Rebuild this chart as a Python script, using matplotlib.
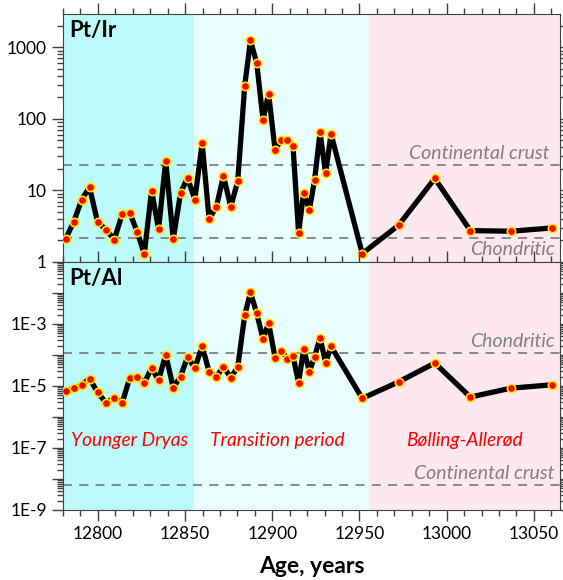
import numpy as np
import matplotlib
matplotlib.use('Agg')
import matplotlib.pyplot as plt
from matplotlib.ticker import LogLocator, FixedLocator, FixedFormatter, MultipleLocator, NullFormatter

plt.rcParams['font.family'] = ['Lato', 'DejaVu Sans']

# sample ages (years)
age = [12781.5, 12786.1, 12790.7, 12795.2, 12799.8, 12804.6, 12809.4, 12814.0,
       12818.3, 12822.6, 12826.6, 12830.8, 12834.8, 12838.9, 12843.2, 12847.4,
       12851.4, 12855.6, 12859.8, 12863.8, 12868.0, 12872.0, 12876.2, 12880.2,
       12884.2, 12887.5, 12891.1, 12894.7, 12897.9, 12901.6, 12905.2, 12908.7,
       12911.9, 12915.1, 12918.0, 12921.3, 12924.3, 12927.4, 12930.6, 12933.7,
       12951.6, 12972.4, 12993.2, 13013.6, 13036.8, 13060.2]

pt_ir = [2.12, 3.59, 7.46, 11.1, 3.63, 2.84, 2.06, 4.69,
         4.84, 2.63, 1.29, 9.96, 2.87, 25.9, 2.08, 9.2,
         15.0, 7.46, 45.7, 3.95, 5.96, 16.0, 5.9, 13.5,
         290, 1248, 601, 97, 224, 37.3, 50.8, 51.5,
         41.9, 2.55, 9.34, 5.4, 14.2, 64.6, 17.4, 61.7,
         1.31, 3.26, 14.7, 2.75, 2.69, 2.99]

pt_al = [6.8e-6, 8.5e-6, 1.07e-5, 1.74e-5, 6.3e-6, 2.9e-6, 4.1e-6, 2.9e-6,
         1.86e-5, 2.0e-5, 1.26e-5, 3.8e-5, 1.55e-5, 1.02e-4, 8.9e-6, 2.0e-5,
         8.7e-5, 3.8e-5, 1.9e-4, 2.9e-5, 2.0e-5, 4.2e-5, 1.86e-5, 4.1e-5,
         1.9e-3, 1.05e-2, 2.2e-3, 3.3e-4, 1.07e-3, 8.3e-5, 1.38e-4, 7.4e-5,
         9.1e-5, 1.28e-5, 1.55e-4, 2.9e-5, 8.9e-5, 3.6e-4, 5.6e-5, 1.9e-4,
         4.0e-6, 1.35e-5, 5.5e-5, 4.4e-6, 8.5e-6, 1.09e-5]

# reference levels
ir_chondritic = 2.17
ir_crust = 23.0
al_chondritic = 1.18e-4
al_crust = 6.6e-9

# periods
periods = ['Younger Dryas', 'Transition period', 'Bølling-Allerød']
period_edges = [12780, 12855.4, 12955.2, 13065]
period_colors = ['#BDFBFB', '#E8FEFE', '#FDE8F0']
period_x = [12818, 12903, 13010]

x_min, x_max = 12780, 13065

fig = plt.figure(figsize=(5.63, 5.80), dpi=100)
ax1 = fig.add_axes([63/563, 1-262/580, 497/563, 248/580])
ax2 = fig.add_axes([63/563, 1-510/580, 497/563, 248/580])

grey = '#808080'

for ax, vals in [(ax1, pt_ir), (ax2, pt_al)]:
    for i in range(3):
        ax.axvspan(period_edges[i], period_edges[i+1], color=period_colors[i], lw=0, zorder=0)
    ax.plot(age, vals, color='black', lw=3.8, zorder=3, solid_joinstyle='round')
    ax.plot(age, vals, 'o', ms=6, mfc='red', mec='#FFE600', mew=1.2, zorder=4, ls='none')
    ax.set_yscale('log')
    ax.set_xlim(x_min, x_max)
    ax.xaxis.set_major_locator(MultipleLocator(50))
    ax.xaxis.set_minor_locator(MultipleLocator(10))
    ax.tick_params(axis='x', which='both', top=True, bottom=True, direction='out', colors='#404040')
    ax.tick_params(axis='y', which='both', left=True, right=True, direction='out', colors='#404040')
    ax.tick_params(which='major', length=8, width=1)
    ax.tick_params(which='minor', length=4, width=1)
    ax.tick_params(labelcolor='black', labelsize=12.5)
    for s in ax.spines.values():
        s.set_color('#404040')

# top panel
ax1.set_ylim(1, 2924)
ax1.yaxis.set_major_locator(FixedLocator([1, 10, 100, 1000]))
ax1.yaxis.set_major_formatter(FixedFormatter(['1', '10', '100', '1000']))
ax1.yaxis.set_minor_locator(LogLocator(base=10, subs=np.arange(2, 10), numticks=20))
ax1.yaxis.set_minor_formatter(NullFormatter())
ax1.tick_params(axis='x', labelbottom=False)
ax1.axhline(ir_crust, color=grey, ls=(0, (5, 4)), lw=1.3, zorder=2)
ax1.axhline(ir_chondritic, color=grey, ls=(0, (5, 4)), lw=1.3, zorder=2)
ax1.text(13059, ir_crust * 1.1, 'Continental crust', color=grey, style='italic',
         fontsize=14, ha='right', va='bottom')
ax1.text(13062, ir_chondritic / 1.1, 'Chondritic', color=grey, style='italic',
         fontsize=14, ha='right', va='top')
ax1.text(0.012, 0.975, 'Pt/Ir', transform=ax1.transAxes, fontsize=16, fontweight='bold',
         ha='left', va='top')

# bottom panel
ax2.set_ylim(1e-9, 1e-1)
ax2.yaxis.set_major_locator(FixedLocator([1e-9, 1e-8, 1e-7, 1e-6, 1e-5, 1e-4, 1e-3, 1e-2]))
ax2.yaxis.set_major_formatter(FixedFormatter(['1E-9', '', '1E-7', '', '1E-5', '', '1E-3', '']))
ax2.yaxis.set_minor_locator(LogLocator(base=10, subs=np.arange(2, 10), numticks=20))
ax2.yaxis.set_minor_formatter(NullFormatter())
ax2.tick_params(axis='x', labeltop=False)
ax2.axhline(al_chondritic, color=grey, ls=(0, (5, 4)), lw=1.3, zorder=2)
ax2.axhline(al_crust, color=grey, ls=(0, (5, 4)), lw=1.3, zorder=2)
ax2.text(13062, al_chondritic * 1.2, 'Chondritic', color=grey, style='italic',
         fontsize=14, ha='right', va='bottom')
ax2.text(13062, al_crust * 1.2, 'Continental crust', color=grey, style='italic',
         fontsize=14, ha='right', va='bottom')
ax2.text(0.012, 0.975, 'Pt/Al', transform=ax2.transAxes, fontsize=16, fontweight='bold',
         ha='left', va='top')
for name, px in zip(periods, period_x):
    ax2.text(px, 1.7e-7, name, color='red', style='italic', fontsize=13.8, ha='center', va='center')

ax2.set_xlabel('Age, years', fontsize=16.5, fontweight='bold', labelpad=10)

fig.savefig('out.png', dpi=100)
